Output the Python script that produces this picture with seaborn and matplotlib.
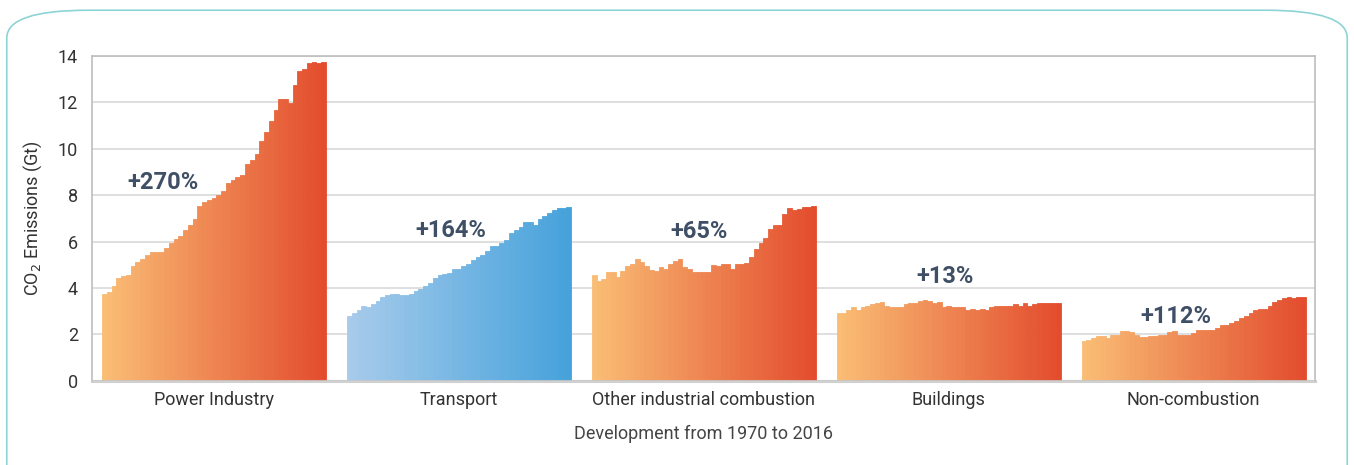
import numpy as np
import pandas as pd
import matplotlib.pyplot as plt
import seaborn as sns
from matplotlib.colors import LinearSegmentedColormap
from matplotlib.patches import FancyBboxPatch

# -------------------------------
# 1. Data (CO2 emissions in Gt, 1970 -> 2016)
# -------------------------------
sectors = ["Power Industry", "Transport", "Other industrial combustion", "Buildings", "Non-combustion"]
changes = ["+270%", "+164%", "+65%", "+13%", "+112%"]
years = list(range(1970, 2017))

power = [3.72, 3.81, 4.07, 4.41, 4.50, 4.54, 4.93, 5.14, 5.23, 5.44,
         5.57, 5.57, 5.57, 5.74, 5.92, 6.09, 6.22, 6.48, 6.73, 6.95,
         7.55, 7.72, 7.81, 7.89, 8.01, 8.18, 8.54, 8.67, 8.80, 8.88,
         9.36, 9.53, 9.79, 10.34, 10.73, 11.20, 11.68, 12.15, 12.15, 11.98,
         12.75, 13.35, 13.44, 13.70, 13.74, 13.70, 13.74]
transport = [2.81, 2.94, 3.07, 3.24, 3.20, 3.29, 3.46, 3.59, 3.71, 3.76,
             3.76, 3.71, 3.71, 3.76, 3.89, 3.97, 4.10, 4.23, 4.44, 4.57,
             4.61, 4.66, 4.83, 4.83, 4.96, 5.04, 5.21, 5.34, 5.43, 5.60,
             5.81, 5.81, 5.94, 6.07, 6.37, 6.50, 6.63, 6.84, 6.84, 6.71,
             6.97, 7.10, 7.23, 7.36, 7.44, 7.44, 7.49]
other_ind = [4.57, 4.31, 4.40, 4.70, 4.70, 4.49, 4.74, 4.96, 5.04, 5.26,
             5.13, 4.96, 4.79, 4.74, 4.91, 4.83, 5.04, 5.17, 5.26, 4.91,
             4.83, 4.70, 4.70, 4.70, 4.70, 5.00, 4.95, 5.04, 5.04, 4.83,
             5.04, 5.04, 5.09, 5.34, 5.69, 5.94, 6.16, 6.54, 6.71, 6.71,
             7.19, 7.44, 7.36, 7.40, 7.49, 7.49, 7.53]
buildings = [2.94, 2.94, 3.07, 3.16, 3.07, 3.16, 3.24, 3.29, 3.37, 3.41,
             3.24, 3.20, 3.16, 3.16, 3.29, 3.37, 3.37, 3.46, 3.50, 3.46,
             3.37, 3.41, 3.20, 3.24, 3.16, 3.20, 3.20, 3.03, 3.11, 3.07,
             3.11, 3.07, 3.20, 3.24, 3.24, 3.24, 3.24, 3.29, 3.24, 3.37,
             3.24, 3.33, 3.37, 3.37, 3.37, 3.37, 3.37]
non_comb = [1.70, 1.74, 1.83, 1.91, 1.91, 1.83, 1.96, 1.96, 2.13, 2.13,
            2.09, 1.96, 1.87, 1.87, 1.91, 1.91, 1.96, 1.96, 2.09, 2.13,
            1.96, 1.96, 1.96, 2.04, 2.17, 2.17, 2.21, 2.21, 2.26, 2.39,
            2.39, 2.47, 2.56, 2.69, 2.81, 2.94, 3.07, 3.11, 3.11, 3.24,
            3.41, 3.50, 3.56, 3.59, 3.56, 3.59, 3.59]
series = [power, transport, other_ind, buildings, non_comb]

# -------------------------------
# 2. Build a long table with bar positions and colours
# -------------------------------
group_step = 51.4  # slot count between group starts
orange = LinearSegmentedColormap.from_list("orange", ["#F9BD75", "#E34D2E"])
blue = LinearSegmentedColormap.from_list("blue", ["#A7CBEB", "#46A2DB"])

rows = []
palette = {}
for g, (name, vals) in enumerate(zip(sectors, series)):
    cmap = blue if name == "Transport" else orange
    for k, (yr, v) in enumerate(zip(years, vals)):
        pos = g * group_step + k
        bar_id = f"{g}_{k}"
        rows.append({"pos": pos, "value": v, "bar_id": bar_id, "sector": name, "year": yr})
        palette[bar_id] = cmap(k / (len(years) - 1))
df = pd.DataFrame(rows)

# -------------------------------
# 3. Plot
# -------------------------------
sns.set_style("white")
plt.rcParams["font.family"] = ["Roboto", "DejaVu Sans"]

fig = plt.figure(figsize=(13.54, 4.65), dpi=100)
ax = fig.add_axes([0.068, 0.181, 0.903, 0.699])

sns.barplot(data=df, x="pos", y="value", hue="bar_id", palette=palette,
            native_scale=True, dodge=False, legend=False, saturation=1,
            width=1.0, linewidth=0.6, ax=ax, errorbar=None)
for p in ax.patches:
    p.set_edgecolor(p.get_facecolor())

ax.set_ylim(0, 14)
ax.set_xlim(-2.6, 4 * group_step + 46 + 2.4)
ax.set_yticks(range(0, 15, 2))
ax.yaxis.grid(True, color="#D9D9D9", linewidth=1.2)
ax.set_axisbelow(True)
for side in ["top", "right", "left"]:
    ax.spines[side].set_color("#BDBDBD")
    ax.spines[side].set_linewidth(1.2)
ax.spines["bottom"].set_color("#C8C8C8")
ax.spines["bottom"].set_linewidth(2.2)
ax.spines["bottom"].set_alpha(0.85)
ax.spines["bottom"].set_zorder(5)

centers = [g * group_step + 23 for g in range(len(sectors))]
ax.set_xticks(centers)
ax.set_xticklabels(sectors, fontsize=13, color="#333333")
ax.tick_params(axis="x", length=0, pad=7)
ax.tick_params(axis="y", length=0, pad=10, labelsize=13, labelcolor="#333333")
ax.set_xlabel("Development from 1970 to 2016", fontsize=13, color="#444444", labelpad=12)
ax.set_ylabel(r"CO$_2$ Emissions (Gt)", fontsize=13, color="#333333", labelpad=10)

# percentage change labels
label_y = [8.53, 6.47, 6.45, 4.48, 2.76]
label_x = [12.2, 21.2, 22.0, 22.2, 19.3]
for g, txt in enumerate(changes):
    ax.text(g * group_step + label_x[g], label_y[g], txt, fontsize=17, fontweight="bold",
            color="#3E4F66", ha="center", va="center", zorder=6)

# rounded frame around the figure
frame = FancyBboxPatch((0.005, -0.2), 0.99, 1.178, boxstyle="round,pad=0,rounding_size=0.06",
                       transform=fig.transFigure, fill=False, edgecolor="#8ED3D5",
                       linewidth=1.2, mutation_aspect=465 / 1354 * 2.9)
fig.patches.append(frame)

plt.savefig("out.png", dpi=100)
